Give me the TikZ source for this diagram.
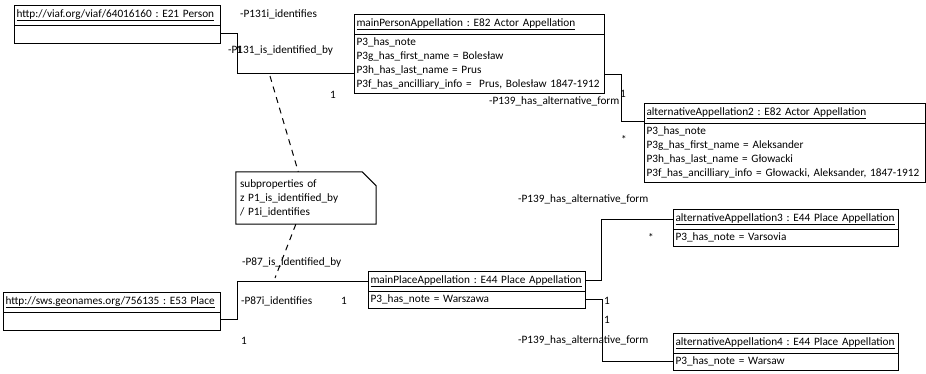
\documentclass[tikz,border=0pt]{standalone}
\usepackage{fontspec}
\setmainfont{Carlito}
\usetikzlibrary{shapes.multipart}

\tikzset{
  objbox/.style={rectangle split, rectangle split parts=2, draw, line width=1bp,
    anchor=north west, inner xsep=2bp, inner ysep=3.5bp, align=left,
    font=\fontsize{11.3}{14}\selectfont},
  lbl/.style={anchor=west, inner sep=0pt, font=\fontsize{11.3}{14}\selectfont},
  mult/.style={inner sep=0pt, font=\fontsize{11.3}{14}\selectfont},
  link/.style={line width=1bp},
  hint/.style={line width=1bp, dash pattern=on 6bp off 5bp},
}

\begin{document}
\frenchspacing
\begin{tikzpicture}[x=1bp, y=-1bp]
  \useasboundingbox (0,0) rectangle (926,373);

  % Person part
  \node[objbox, text width=202bp] (person) at (14,5)
    {\centering\underline{http://viaf.org/viaf/64016160 : E21 Person}\nodepart{two}\rule{0pt}{10bp}};
  \node[objbox, text width=246bp] (mainPerson) at (354,14)
    {\centering\underline{mainPersonAppellation : E82 Actor Appellation}\nodepart{two}P3\_has\_note\\
     P3g\_has\_first\_name = Bolesław\\
     P3h\_has\_last\_name = Prus\\
     P3f\_has\_ancilliary\_info = \ Prus, Bolesław 1847-1912};
  \node[objbox, text width=277bp] (alt2) at (644,103)
    {\centering\underline{alternativeAppellation2 : E82 Actor Appellation}\nodepart{two}P3\_has\_note\\
     P3g\_has\_first\_name = Aleksander\\
     P3h\_has\_last\_name = Głowacki\\
     P3f\_has\_ancilliary\_info = Głowacki, Aleksander, 1847-1912};

  % Place part
  \node[objbox, text width=213bp] (place) at (3,292)
    {\centering\underline{http://sws.geonames.org/756135 : E53 Place}\nodepart{two}\rule{0pt}{10bp}};
  \node[objbox, text width=213bp] (mainPlace) at (368,271)
    {\centering\underline{mainPlaceAppellation : E44 Place Appellation}\nodepart{two}P3\_has\_note = Warszawa};
  \node[objbox, text width=221bp] (alt3) at (673,209)
    {\centering\underline{alternativeAppellation3 : E44 Place Appellation}\nodepart{two}P3\_has\_note = Varsovia};
  \node[objbox, text width=221bp] (alt4) at (673,333)
    {\centering\underline{alternativeAppellation4 : E44 Place Appellation}\nodepart{two}P3\_has\_note = Warsaw};

  % note with folded corner
  \node[minimum width=140bp, minimum height=52bp, text width=132bp, inner xsep=4bp,
        align=left, font=\fontsize{11.3}{14}\selectfont] (note) at (306,198)
    {subproperties of\\ z P1\_is\_identified\_by\\ / P1i\_identifies};
  \draw[link] (note.north west) -- ([xshift=-14bp]note.north east)
    -- ([yshift=-14bp]note.north east) -- (note.south east) -- (note.south west) -- cycle;

  % links
  \draw[link] ([yshift=10bp]person.south east) -- ++(16,0) |- ([yshift=21bp]mainPerson.south west);
  \draw[link] ([yshift=20bp]mainPerson.south east) -- ++(16,0) |- ([yshift=-18bp]alt2.north west);
  \draw[link] ([yshift=11bp]place.south east) -- ++(16,0) |- ([yshift=-10bp]mainPlace.north west);
  \draw[link] ([yshift=-9bp]mainPlace.north east) -- ++(15,0) |- ([yshift=-10bp]alt3.north west);
  \draw[link] ([yshift=9bp]mainPlace.south east) -- ++(16,0) |- ([yshift=9bp]alt4.south west);

  % dashed hint to the note
  \coordinate (hintTop) at (270,76);
  \coordinate (hintBot) at (275,278);
  \draw[hint] (hintTop) -- (note);
  \draw[hint] (note) -- (hintBot);

  % role names and multiplicities
  \node[lbl] (r131i) at (240,14) {-P131i\_identifies};
  \node[lbl] (r131) at (228,50) {-P131\_is\_identified\_by};
  \node[lbl] (m1) at (236,50) {1};
  \node[lbl] (m2) at (330,95) {1};
  \node[lbl] (r139a) at (489,101) {-P139\_has\_alternative\_form};
  \node[lbl] (m3) at (620,94) {1};
  \node[mult] (m4) at (624,139) {*};
  \node[lbl] (r139b) at (518,199) {-P139\_has\_alternative\_form};
  \node[mult] (m5) at (651,237) {*};
  \node[lbl] (r87) at (242,262) {-P87\_is\_identified\_by};
  \node[lbl] (r87i) at (241,301) {-P87i\_identifies};
  \node[lbl] (m6) at (341,301) {1};
  \node[lbl] (m7) at (241,341) {1};
  \node[lbl] (m8) at (604,301) {1};
  \node[lbl] (m9) at (604,320) {1};
  \node[lbl] (r139c) at (518,340) {-P139\_has\_alternative\_form};
\end{tikzpicture}
\end{document}
